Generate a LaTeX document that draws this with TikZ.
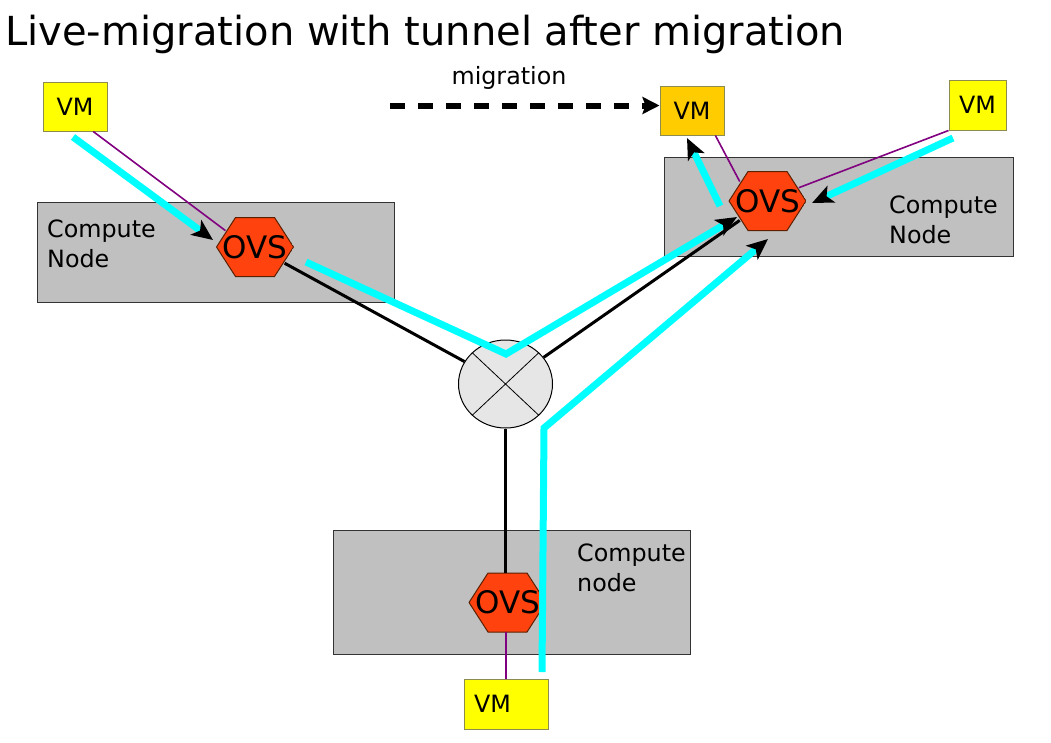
\documentclass[tikz,border=0pt]{standalone}
\usepackage{fontspec}
\setmainfont{DejaVu Sans}
\usetikzlibrary{shapes.geometric,arrows.meta,calc}
\definecolor{vmyellow}{HTML}{FFFF00}
\definecolor{vmorange}{HTML}{FFCC00}
\definecolor{vmborder}{HTML}{8C8C50}
\definecolor{cnfill}{HTML}{C0C0C0}
\definecolor{cnborder}{HTML}{333333}
\definecolor{ovsfill}{HTML}{FF420E}
\definecolor{ovsborder}{HTML}{5A2000}
\definecolor{swfill}{HTML}{E6E6E6}
\definecolor{tunnel}{HTML}{00FFFF}
\definecolor{vlink}{HTML}{800080}
\newcommand{\ovslabel}[1]{\makebox[0pt]{\raisebox{-11pt}[0pt][0pt]{#1}}}
\tikzset{
  cnbox/.style={draw=cnborder, fill=cnfill, line width=1pt, inner sep=0pt},
  cntext/.style={anchor=north west, inner sep=0pt, align=left, font=\fontsize{23.8}{30}\selectfont},
  vmbox/.style={draw=vmborder, fill=vmyellow, line width=1pt, inner sep=0pt, font=\fontsize{23.8}{28}\selectfont},
  ovsnode/.style={regular polygon, regular polygon sides=6, minimum size=78pt, inner sep=0pt, outer sep=0pt,
    font=\fontsize{31}{36}\selectfont,
    path picture={
      \filldraw[fill=ovsfill, draw=ovsborder, line width=1pt]
        ($(path picture bounding box.center)+(-38.5,0)$) -- ++(19,-29.5) -- ++(39,0) -- ++(19,29.5)
        -- ++(-19,29.5) -- ++(-39,0) -- cycle;
    }},
  swnode/.style={ellipse, draw=black, fill=swfill, line width=1pt, minimum width=94pt, minimum height=88pt, inner sep=0pt},
  wire/.style={line width=3pt, black},
  vwire/.style={line width=1.6pt, vlink},
  tun/.style={line width=7pt, tunnel, -{Stealth[length=21pt, width=18pt, inset=5pt, color=black]}},
}
\begin{document}
\begin{tikzpicture}[x=1pt, y=-1pt]
\useasboundingbox (0,0) rectangle (1051,742);
% title
\node[anchor=base west, inner sep=0pt, font=\fontsize{40}{46}\selectfont] (title) at (5,45) {Live-migration with tunnel after migration};
% compute nodes
\node[cnbox, minimum width=357pt, minimum height=100pt] (cn1) at (215.5,252) {};
\node[cnbox, minimum width=349pt, minimum height=99pt] (cn2) at (838.5,206.5) {};
\node[cnbox, minimum width=357pt, minimum height=124pt] (cn3) at (511.5,592) {};
\node[cntext] (t1) at (47,220) {Compute\\Node};
\node[cntext] (t2) at (889,196) {Compute\\Node};
\node[cntext] (t3) at (577,544) {Compute\\node};
% switch
\node[swnode] (sw) at (505.5,384) {};
\draw[line width=0.8pt] ($(sw.center)+(-33,-31)$) -- ($(sw.center)+(33,31)$);
\draw[line width=0.8pt] ($(sw.center)+(33,-31)$) -- ($(sw.center)+(-33,31)$);
% OVS
\node[ovsnode] (o1) at (255,247) {\ovslabel{OVS}};
\node[ovsnode] (o2) at (767.5,201) {\ovslabel{OVS}};
\node[ovsnode] (o3) at (507.5,602.5) {\ovslabel{OVS}};
% VMs
\node[vmbox, minimum width=64pt, minimum height=49pt] (v1) at (75,106.5) {VM};
\node[vmbox, fill=vmorange, minimum width=64pt, minimum height=49pt] (v2) at (692,110.5) {VM};
\node[vmbox, minimum width=57pt, minimum height=50pt] (v3) at (977.5,105) {VM};
\node[vmbox, minimum width=84pt, minimum height=50pt, inner xsep=10pt, text width=64pt, align=left] (v4) at (506,704) {VM};
% black links
\draw[wire] (o1) -- (sw);
\draw[wire] (sw) -- (o2);
\draw[wire] (sw.south) -- ([yshift=-4.5pt]sw.south |- o3.north);
% purple links
\draw[vwire] ($(v1.south west)!0.78!(v1.south east)$) -- (o1.151);
\draw[vwire] ($(v2.south west)!0.86!(v2.south east)$) -- (o2.145);
\draw[vwire] (v3.south west) -- (o2.23);
\draw[vwire] ([yshift=4.5pt]o3.south -| v4.north) -- (v4.north);
% migration
\coordinate (mstart) at (390,105.5);
\draw[line width=6pt, dash pattern=on 15pt off 13pt, -{Stealth[length=17pt, width=17pt, inset=3pt]}] (mstart) -- ([yshift=5pt]v2.west);
\node[anchor=base, inner sep=0pt, font=\fontsize{23.8}{28}\selectfont] (mlabel) at (509,84) {migration};
% tunnels
\coordinate (a1) at (73,137);
\coordinate (a2) at (213,240);
\draw[tun] (a1) -- (a2);
\coordinate (b1) at (306,262);
\coordinate (b2) at (506,354);
\coordinate (b3) at (737,217);
\draw[tun] (b1) -- (b2) -- (b3);
\coordinate (c1) at (720,206);
\coordinate (c2) at (687,138);
\draw[tun] (c1) -- (c2);
\coordinate (d1) at (953,138);
\coordinate (d2) at (812,203);
\draw[tun] (d1) -- (d2);
\coordinate (e1) at (542,672);
\coordinate (e2) at (544,428);
\coordinate (e3) at (768,239);
\draw[tun] (e1) -- (e2) -- (e3);
\end{tikzpicture}
\end{document}
